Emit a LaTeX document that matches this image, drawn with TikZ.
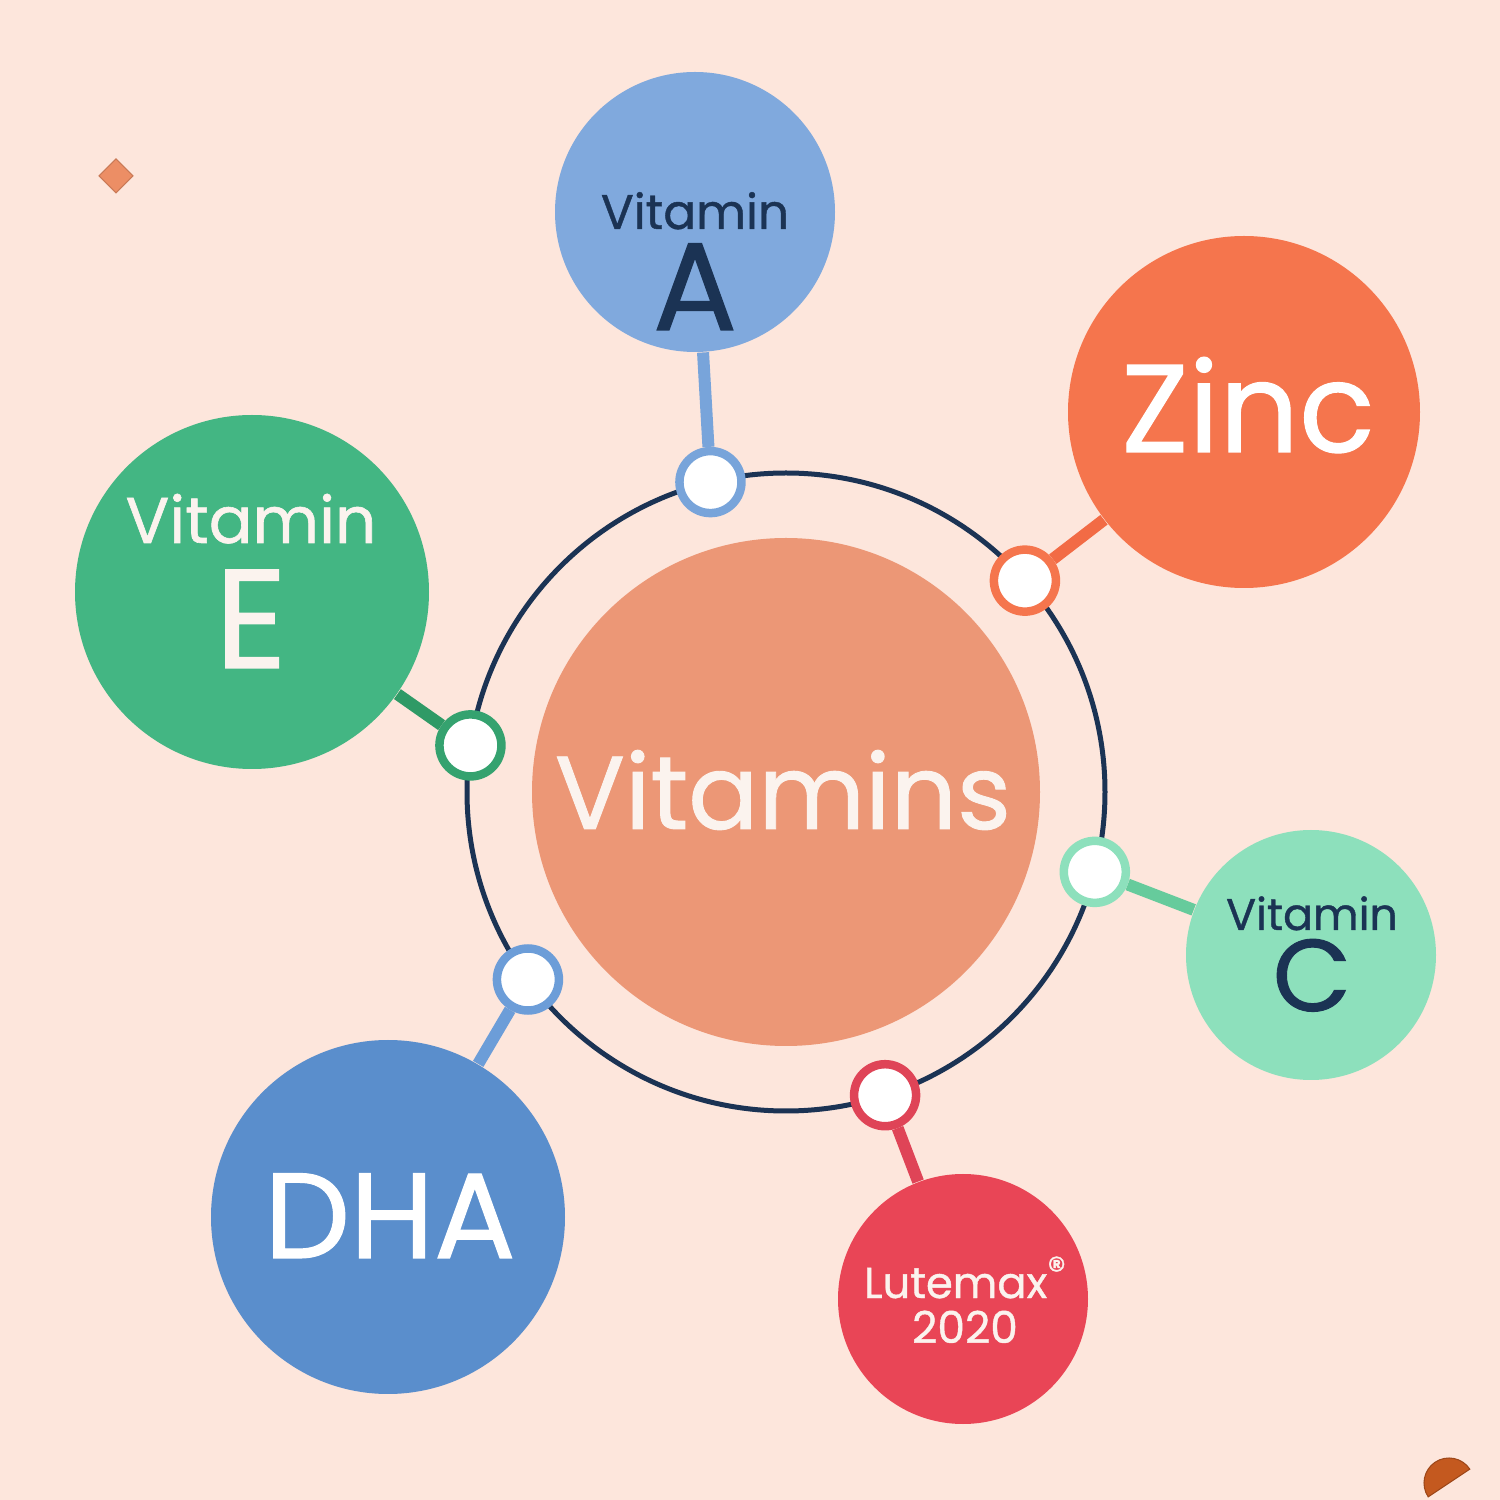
\documentclass[tikz,border=0pt]{standalone}
\usepackage{fontspec}
\setmainfont{Poppins}[FakeBold=0.9]
\usepackage{xcolor}
\usetikzlibrary{calc,backgrounds}
\definecolor{PageBg}{HTML}{FDE6DC}
\definecolor{HubFill}{HTML}{EC9776}
\definecolor{RingNavy}{HTML}{1B3354}
\definecolor{TextLight}{HTML}{FBF3EE}
\definecolor{VitABlue}{HTML}{80A9DD}
\definecolor{VitALine}{HTML}{78A4DA}
\definecolor{ZincOrange}{HTML}{F5754D}
\definecolor{ZincLine}{HTML}{F26B45}
\definecolor{VitEGreen}{HTML}{43B683}
\definecolor{VitELine}{HTML}{2F9A66}
\definecolor{VitCMint}{HTML}{8DE0BC}
\definecolor{VitCLine}{HTML}{66CB9C}
\definecolor{DhaBlue}{HTML}{5A8ECC}
\definecolor{DhaLine}{HTML}{6C9DD8}
\definecolor{LuteRed}{HTML}{E94556}
\definecolor{LuteLine}{HTML}{DF4457}
\definecolor{DiamondOrange}{HTML}{EC8E65}
\definecolor{CapBrown}{HTML}{C4591F}
\newcommand{\fs}[1]{\fontsize{#1}{#1}\selectfont}
\tikzset{
    bubble/.style={circle, fill=#1, inner sep=0pt},
    joint/.style={circle, draw=#1, line width=0.085cm, fill=white, minimum size=0.62cm, inner sep=0pt},
    link/.style={draw=#1, line width=0.12cm},
    lbl/.style={anchor=base, inner sep=0pt}
}

\begin{document}
\begin{tikzpicture}
    \useasboundingbox (0,0) rectangle (15,15);
    \begin{scope}[on background layer]
        \fill[PageBg] (0,0) rectangle (15,15);
    \end{scope}

    % hub and ring
    \coordinate (hubc) at (7.86,7.08);
    \draw[RingNavy, line width=0.05cm] (hubc) circle (3.19);
    \node[bubble=HubFill, minimum size=5.08cm] (hub) at (hubc) {};
    \node[lbl, text=TextLight, font=\fs{29.5}] (hubtxt) at ($(hub)+(-0.03,-0.37)$) {Vitamins};

    % joints on the ring
    \node[joint=VitALine] (jA) at ($(hubc)+(103.7:3.19)$) {};
    \node[joint=ZincOrange] (jZn) at ($(hubc)+(41.5:3.19)$) {};
    \node[joint=VitCMint] (jC) at ($(hubc)+(-14.5:3.19)$) {};
    \node[joint=LuteLine] (jLu) at ($(hubc)+(-71.9:3.19)$) {};
    \node[joint=DhaLine] (jDha) at ($(hubc)+(216:3.19)$) {};
    \node[joint=VitELine!70!VitEGreen] (jE) at ($(hubc)+(171.6:3.19)$) {};

    % outer bubbles
    \node[bubble=VitABlue, minimum size=2.80cm] (vitA) at (6.95,12.88) {};
    \node[lbl, text=RingNavy, font=\fs{13.8}] at ($(vitA)+(0,-0.17)$) {Vitamin};
    \node[lbl, text=RingNavy, font=\fs{35.5}] at ($(vitA)+(0,-1.18)$) {A};

    \node[bubble=ZincOrange, minimum size=3.52cm] (zinc) at (12.44,10.88) {};
    \node[lbl, text=white, font=\fs{35.5}] at ($(zinc)+(0.04,-0.40)$) {Zinc};

    \node[bubble=VitEGreen, minimum size=3.54cm] (vitE) at (2.52,9.08) {};
    \node[lbl, text=TextLight, font=\fs{18.4}] at ($(vitE)+(-0.01,0.49)$) {Vitamin};
    \node[lbl, text=TextLight, font=\fs{40}] at ($(vitE)+(-0.01,-0.76)$) {E};

    \node[bubble=VitCMint, minimum size=2.50cm] (vitC) at (13.11,5.45) {};
    \node[lbl, text=RingNavy, font=\fs{12.6}] at ($(vitC)+(0.01,0.25)$) {Vitamin};
    \node[lbl, text=RingNavy, font=\fs{29}] at ($(vitC)+(0.01,-0.56)$) {C};

    \node[bubble=DhaBlue, minimum size=3.54cm] (dha) at (3.88,2.83) {};
    \node[lbl, text=white, font=\fs{34.5}] at ($(dha)+(0.02,-0.41)$) {DHA};

    \node[bubble=LuteRed, minimum size=2.50cm] (lute) at (9.63,2.01) {};
    \node[lbl, text=TextLight, font=\fs{12.3}] at ($(lute)+(0.02,0.01)$) {Lutemax\raisebox{0.65ex}{\fs{10.5}®}};
    \node[lbl, text=TextLight, font=\fs{12.5}] at ($(lute)+(0.02,-0.44)$) {2020};

    % connectors
    \begin{scope}[on background layer]
        \draw[link=VitALine] (vitA) -- (jA);
        \draw[link=ZincLine] (zinc) -- (jZn);
        \draw[link=VitCLine] (vitC) -- (jC);
        \draw[link=LuteLine] (lute) -- (jLu);
        \draw[link=DhaLine] (dha) -- (jDha);
        \draw[link=VitELine] (vitE) -- (jE);
    \end{scope}

    % small decorations
    \draw[fill=DiamondOrange, draw=DiamondOrange!85!black, line width=0.3pt]
        (1.16,13.41) -- (1.33,13.24) -- (1.16,13.07) -- (0.99,13.24) -- cycle;
    \draw[fill=CapBrown, draw=CapBrown!80!black, line width=0.3pt]
        (14.49,0.17) ++(33.7:0.25) arc[start angle=33.7, end angle=213.7, radius=0.25] -- cycle;
\end{tikzpicture}
\end{document}
